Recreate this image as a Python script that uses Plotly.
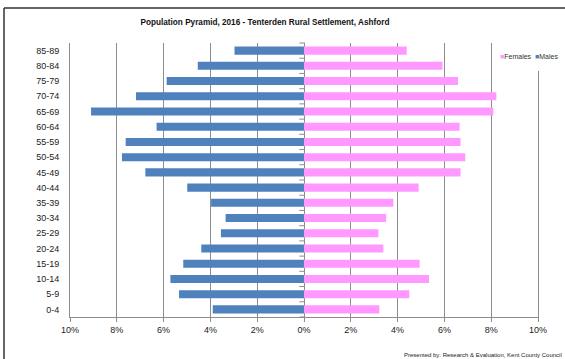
import plotly.graph_objects as go

# Age bands, youngest first (drawn bottom to top)
age_bands = ["0-4", "5-9", "10-14", "15-19", "20-24", "25-29", "30-34", "35-39",
             "40-44", "45-49", "50-54", "55-59", "60-64", "65-69", "70-74",
             "75-79", "80-84", "85-89"]

# Share of total population (%)
males = [3.9, 5.34, 5.71, 5.16, 4.39, 3.55, 3.35, 3.97,
         4.99, 6.78, 7.78, 7.62, 6.3, 9.1, 7.18, 5.87, 4.54, 2.97]
females = [3.22, 4.5, 5.34, 4.94, 3.39, 3.18, 3.51, 3.82,
           4.9, 6.69, 6.89, 6.69, 6.65, 8.09, 8.22, 6.58, 5.92, 4.39]

x_ticks = [-10, -8, -6, -4, -2, 0, 2, 4, 6, 8, 10]
x_tick_text = [f"{abs(v)}%" for v in x_ticks]

W, H = 565, 359
ML, MR, MT, MB = 70, 27, 43, 42
PW, PH = W - ML - MR, H - MT - MB

def px_x(p):
    return (p - ML) / PW

def px_y(p):
    return (H - MB - p) / PH

BLUE = "#4F81BD"
PINK = "#FF99FF"
GRID = "#8C8C8C"
FONT = "Liberation Sans, Arial"

band_pos = list(range(len(age_bands)))
# small ticks on the central axis, between neighbouring bands
boundaries = [i - 0.5 for i in range(len(age_bands) + 1)]

fig = go.Figure()
fig.add_trace(go.Bar(y=band_pos, x=females, orientation="h", name="Females",
                     marker=dict(color=PINK, line=dict(width=0))))
fig.add_trace(go.Bar(y=band_pos, x=[-v for v in males], orientation="h", name="Males",
                     marker=dict(color=BLUE, line=dict(width=0))))
fig.add_trace(go.Scatter(y=boundaries, x=[-0.08] * len(boundaries), mode="markers",
                         marker=dict(symbol="line-ew", size=4,
                                     line=dict(color=GRID, width=1)),
                         showlegend=False, hoverinfo="skip", cliponaxis=False))

fig.update_layout(
    width=W, height=H,
    margin=dict(l=ML, r=MR, t=MT, b=MB),
    paper_bgcolor="white", plot_bgcolor="white",
    barmode="relative", bargap=0.47,
    font=dict(family=FONT, color="#222222", size=9),
    showlegend=False,
    title=dict(text="<b>Population Pyramid, 2016 - Tenterden Rural Settlement, Ashford</b>",
               x=265 / W, xanchor="center", y=1 - 22 / H, yanchor="middle",
               font=dict(size=8.2, family=FONT, color="#111111")),
    xaxis=dict(range=[-10, 10], tickmode="array", tickvals=x_ticks, ticktext=x_tick_text,
               showgrid=True, gridcolor=GRID, gridwidth=1,
               zeroline=True, zerolinecolor=GRID, zerolinewidth=1,
               showline=True, linecolor=GRID, linewidth=1,
               ticks="outside", ticklen=4, tickcolor=GRID,
               tickfont=dict(size=9, family=FONT, color="#222222")),
    yaxis=dict(range=[-0.5, len(age_bands) - 0.5], tickmode="array",
               tickvals=band_pos, ticktext=age_bands,
               showgrid=False, zeroline=False, showline=True, linecolor=GRID,
               linewidth=1, mirror=True, ticks="", ticklabelstandoff=8,
               tickfont=dict(size=9, family=FONT, color="#222222")),
)

# legend box in the top right corner (white panel over the gridline)
fig.add_shape(type="rect", xref="paper", yref="paper",
              x0=px_x(495), x1=px_x(563), y0=px_y(43), y1=px_y(71),
              fillcolor="white", line=dict(width=0), layer="above")
legend_text = (f'<span style="color:{PINK}">■</span>Females&nbsp;&nbsp;'
               f'<span style="color:{BLUE}">■</span>Males')
fig.add_annotation(text=legend_text, xref="paper", yref="paper",
                   x=px_x(499), y=px_y(56), xanchor="left", yanchor="middle",
                   showarrow=False, borderpad=0,
                   font=dict(size=7, family=FONT, color="#333333"))

fig.add_annotation(text="Presented by: Research & Evaluation, Kent County Council",
                   xref="paper", yref="paper", x=px_x(564), y=px_y(355),
                   xanchor="right", yanchor="middle", showarrow=False,
                   font=dict(size=6, family=FONT, color="#222222"))

# chart frame
fig.add_shape(type="line", xref="paper", yref="paper",
              x0=px_x(4), x1=px_x(565), y0=px_y(8), y1=px_y(8),
              line=dict(color="#333333", width=1.5))
fig.add_shape(type="line", xref="paper", yref="paper",
              x0=px_x(4), x1=px_x(4), y0=px_y(8), y1=px_y(359),
              line=dict(color="#333333", width=1.5))

fig.write_html("out.html")
